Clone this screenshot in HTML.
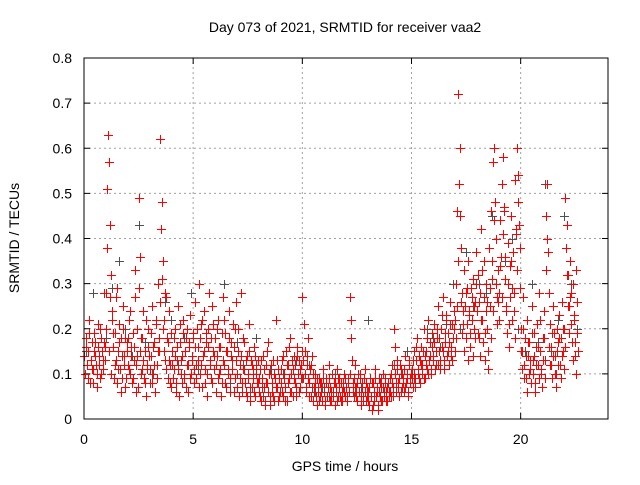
<!DOCTYPE html>
<html><head><meta charset="utf-8"><style>
body{margin:0;background:#fff;}
svg text{font-family:"Liberation Sans",sans-serif;font-size:14px;fill:#000;}
</style></head><body>
<svg id="chart" width="640" height="480" xmlns="http://www.w3.org/2000/svg">
<text x="345" y="32" text-anchor="middle">Day 073 of 2021, SRMTID for receiver vaa2</text>
<text transform="translate(19,238) rotate(-90)" text-anchor="middle">SRMTID / TECUs</text>
<text x="345" y="471" text-anchor="middle">GPS time / hours</text>
<g id="grid"></g>
<g id="ticks"></g>
<g id="marks"></g>
<rect x="84" y="58" width="524" height="361" fill="none" stroke="#000" stroke-width="1"/>
</svg>
<script>
const xTicks=[0,5,10,15,20];
const yTicks=[0,0.1,0.2,0.3,0.4,0.5,0.6,0.7,0.8];
const yTickLabels=["0","0.1","0.2","0.3","0.4","0.5","0.6","0.7","0.8"];
const startHour=0, stepHour=0.05, grayStepHour=0.3;
const srmtidA=[
.14,.10,.16,.12,.09,.19,.13,.11,.08,.15,.17,.12,.10,.21,.14,.09,.18,.13,.28,.16,
.28,.51,.63,.57,.43,.32,.24,.19,.12,.27,.08,.15,.21,.11,.18,.09,.25,.14,.07,.17,
.12,.22,.10,.16,.08,.19,.13,.27,.06,.14,.49,.36,.18,.11,.24,.09,.15,.05,.12,.20,
.08,.14,.25,.10,.17,.06,.21,.12,.30,.15,.62,.48,.35,.22,.13,.27,.18,.09,.24,.12,
.07,.15,.11,.20,.08,.13,.25,.05,.17,.10,.14,.22,.09,.18,.12,.06,.16,.23,.10,.14,
.19,.08,.26,.12,.16,.30,.10,.21,.07,.14,.24,.11,.17,.05,.20,.13,.09,.25,.15,.11,
.18,.06,.14,.22,.10,.16,.08,.27,.12,.19,.07,.15,.11,.24,.09,.17,.13,.06,.20,.26,
.10,.15,.05,.12,.28,.08,.18,.11,.06,.14,.09,.21,.04,.13,.07,.11,.16,.05,.12,.08,
.06,.11,.04,.09,.14,.07,.03,.12,.08,.17,.05,.10,.06,.13,.04,.09,.22,.07,.11,.05,
.08,.13,.05,.10,.07,.15,.04,.12,.09,.18,.06,.11,.14,.08,.05,.16,.10,.13,.07,.12,
.27,.09,.15,.06,.12,.18,.08,.11,.05,.14,.04,.07,.10,.03,.06,.09,.05,.08,.04,.11,
.06,.03,.09,.05,.12,.07,.04,.10,.06,.08,.03,.07,.11,.05,.09,.04,.06,.08,.10,.05,
.07,.04,.09,.06,.27,.18,.08,.05,.12,.07,.04,.10,.06,.09,.03,.08,.05,.11,.04,.07,
.06,.03,.09,.05,.02,.08,.04,.11,.06,.03,.09,.05,.07,.04,.10,.06,.08,.04,.07,.05,
.09,.05,.12,.07,.20,.10,.06,.13,.08,.05,.11,.07,.09,.06,.14,.08,.10,.05,.12,.09,
.11,.07,.15,.09,.13,.18,.10,.14,.08,.16,.12,.20,.09,.15,.11,.22,.13,.17,.10,.19,
.14,.21,.12,.18,.25,.15,.11,.20,.16,.27,.13,.19,.23,.15,.17,.26,.14,.21,.18,.24,
.22,.30,.46,.72,.60,.38,.28,.21,.33,.25,.18,.29,.35,.23,.16,.27,.31,.20,.26,.37,
.24,.32,.18,.28,.42,.22,.35,.19,.30,.26,.15,.38,.25,.46,.31,.57,.60,.40,.27,.33,
.28,.44,.36,.52,.58,.47,.31,.25,.39,.21,.34,.45,.29,.37,.24,.53,.41,.60,.54,.38,
.20,.15,.27,.12,.18,.09,.22,.14,.17,.11,.25,.13,.19,.08,.16,.21,.12,.28,.15,.10,
.18,.24,.13,.45,.52,.37,.16,.21,.12,.19,.25,.14,.10,.20,.17,.23,.12,.18,.26,.15,
.20,.49,.43,.32,.25,.35,.28,.17,.30,.22,.14,.33,.19];
const srmtidB=[
.10,.18,.12,.15,.22,.08,.13,.17,.11,.19,.14,.07,.16,.12,.20,.10,.15,.11,.17,.13,
.20,.38,.15,.27,.10,.22,.16,.09,.19,.13,.29,.11,.17,.06,.14,.20,.12,.18,.09,.15,
.18,.11,.24,.14,.09,.16,.33,.12,.20,.07,.29,.15,.10,.18,.13,.08,.22,.11,.16,.14,
.11,.19,.08,.16,.12,.22,.09,.15,.18,.26,.42,.31,.20,.15,.28,.11,.17,.13,.08,.19,
.12,.09,.18,.14,.06,.16,.11,.21,.13,.08,.19,.10,.15,.07,.20,.12,.17,.09,.13,.18,
.11,.16,.09,.20,.13,.07,.18,.12,.22,.15,.08,.19,.10,.16,.28,.12,.18,.08,.21,.14,
.12,.20,.09,.16,.11,.05,.19,.13,.22,.08,.15,.10,.18,.06,.14,.11,.21,.16,.09,.13,
.07,.20,.09,.14,.06,.11,.17,.08,.13,.05,.10,.15,.07,.12,.09,.06,.14,.10,.08,.13,
.09,.05,.13,.07,.11,.04,.08,.15,.06,.10,.03,.12,.08,.05,.10,.07,.13,.04,.09,.06,
.11,.06,.14,.09,.04,.12,.08,.16,.06,.10,.13,.05,.09,.12,.07,.14,.06,.11,.09,.15,
.13,.21,.10,.07,.14,.09,.05,.12,.07,.10,.06,.08,.05,.09,.07,.04,.08,.06,.09,.07,
.04,.08,.05,.07,.09,.04,.06,.10,.05,.08,.06,.04,.09,.07,.05,.08,.04,.07,.06,.09,
.05,.08,.06,.10,.22,.13,.06,.09,.07,.05,.08,.06,.10,.05,.07,.04,.09,.06,.08,.05,
.04,.07,.05,.08,.03,.06,.09,.05,.07,.02,.06,.08,.04,.07,.05,.09,.06,.04,.08,.06,
.06,.10,.08,.05,.16,.08,.11,.07,.09,.12,.06,.10,.08,.11,.07,.09,.06,.13,.08,.10,
.09,.13,.10,.07,.16,.11,.09,.13,.12,.10,.15,.09,.14,.12,.18,.10,.14,.11,.16,.13,
.17,.11,.15,.20,.12,.18,.13,.23,.15,.11,.17,.22,.14,.19,.12,.21,.16,.13,.20,.15,
.18,.25,.35,.52,.45,.26,.19,.24,.15,.28,.21,.13,.24,.19,.29,.22,.14,.25,.18,.30,
.19,.26,.14,.22,.33,.17,.27,.13,.24,.20,.11,.29,.18,.35,.24,.44,.48,.30,.21,.26,
.22,.34,.27,.41,.46,.36,.24,.19,.30,.16,.27,.35,.22,.28,.18,.42,.33,.48,.43,.29,
.15,.11,.20,.09,.14,.06,.17,.10,.13,.08,.19,.10,.14,.06,.12,.16,.09,.22,.11,.07,
.13,.18,.09,.33,.40,.28,.12,.16,.09,.14,.19,.10,.07,.15,.12,.18,.09,.14,.20,.11,
.16,.38,.32,.25,.19,.27,.21,.13,.23,.17,.10,.26,.15];
const srmtidGray=[.15,.28,.12,.18,.29,.35,.20,.14,.43,.17,.10,.15,.26,.22,.12,.18,.28,.11,.24,.09,.14,.30,.08,.17,.12,.06,.18,.05,.11,.07,.10,.16,.13,.09,.12,.06,.07,.05,.10,.04,.08,.06,.07,.22,.05,.09,.04,.12,.10,.15,.09,.13,.20,.18,.16,.21,.30,.20,.37,.25,.30,.28,.45,.22,.35,.40,.20,.15,.30,.17,.52,.15,.22,.45,.30,.20];

const NS="http://www.w3.org/2000/svg";
const X0=84,X1=608,Y0=419,Y1=58;
function xs(h){return X0+(h-0)/(24-0)*(X1-X0);}
function ys(v){return Y0-(v-0)/(0.8-0)*(Y0-Y1);}
const grid=document.getElementById('grid'),ticks=document.getElementById('ticks'),marks=document.getElementById('marks');
function mk(tag,attrs,parent){const e=document.createElementNS(NS,tag);for(const k in attrs)e.setAttribute(k,attrs[k]);parent.appendChild(e);return e;}
yTicks.forEach((v,i)=>{
  const y=ys(v);
  if(i>0&&i<yTicks.length-1){const g=mk('line',{x1:X0,x2:X1,y1:y,y2:y,stroke:'#a0a0a0','stroke-dasharray':'2,3'},grid);
  
  }
  mk('line',{x1:X0,x2:X0+6,y1:y,y2:y,stroke:'#000'},ticks);
  mk('line',{x1:X1,x2:X1-6,y1:y,y2:y,stroke:'#000'},ticks);
  const t=mk('text',{x:X0-12,y:y+5,'text-anchor':'end'},ticks);t.textContent=yTickLabels[i];
  
  
});
xTicks.forEach((h,i)=>{
  const x=xs(h);
  if(i>0){const g=mk('line',{x1:x,x2:x,y1:Y0,y2:Y1,stroke:'#a0a0a0','stroke-dasharray':'2,3'},grid);
  
  }
  mk('line',{x1:x,x2:x,y1:Y0,y2:Y0-6,stroke:'#000'},ticks);
  mk('line',{x1:x,x2:x,y1:Y1,y2:Y1+6,stroke:'#000'},ticks);
  const t=mk('text',{x:x,y:Y0+25,'text-anchor':'middle'},ticks);t.textContent=String(h);
  
  
});
function plus(h,v,color){
  const x=Math.round(xs(h))+0.5,y=Math.round(ys(v))+0.5;
  const p=mk('path',{d:`M${x-4.5} ${y}H${x+4.5}M${x} ${y-4.5}V${y+4.5}`,stroke:color,'stroke-width':1,fill:'none'},marks);
  
  
}
srmtidGray.forEach((v,i)=>{const h=startHour+i*grayStepHour;if(h<=22.7)plus(h+0.1,v,'#505050');});
srmtidA.forEach((v,i)=>plus(startHour+i*stepHour,v,'#ff0000'));
srmtidB.forEach((v,i)=>plus(startHour+i*stepHour+stepHour/2,v,'#ff0000'));
</script>
</body></html>
